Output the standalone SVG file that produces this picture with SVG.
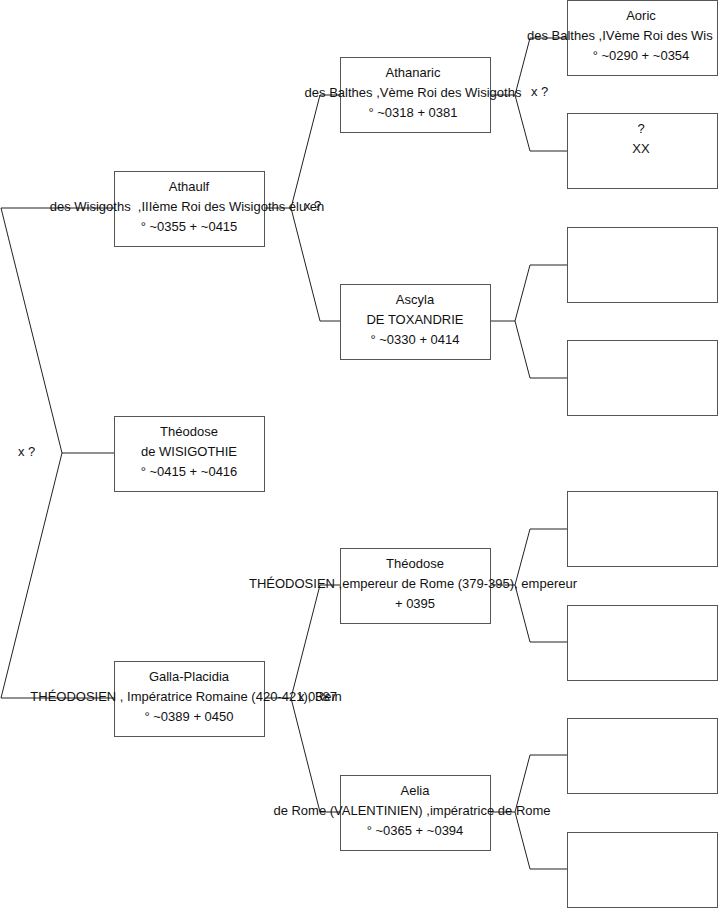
<svg xmlns="http://www.w3.org/2000/svg" width="719" height="908" viewBox="0 0 719 908">
<style>
.box{fill:#fff;stroke:#555;stroke-width:1}
.t{font-family:"Liberation Sans",Arial,sans-serif;font-size:13px;fill:#111;text-anchor:middle}
.l{font-family:"Liberation Sans",Arial,sans-serif;font-size:13px;fill:#111}
.c{fill:none;stroke:#222;stroke-width:1}
</style>
<rect width="719" height="908" fill="#fff"/>
<g id="connectors">
<polyline class="c" points="114,208 1,208 62,453 114,453"/>
<polyline class="c" points="62,453 1,698 114,698"/>
<polyline class="c" points="264,208 291,208 320,95 340,95"/>
<polyline class="c" points="291,208 320,321 340,321"/>
<polyline class="c" points="264,698 291,698 320,585 340,585"/>
<polyline class="c" points="291,698 320,812 340,812"/>
<polyline class="c" points="490,95 515,95 530,38 567,38"/>
<polyline class="c" points="515,95 530,151 567,151"/>
<polyline class="c" points="490,321 515,321 530,265 567,265"/>
<polyline class="c" points="515,321 530,378 567,378"/>
<polyline class="c" points="490,585 515,585 530,529 567,529"/>
<polyline class="c" points="515,585 530,642 567,642"/>
<polyline class="c" points="490,812 515,812 530,755 567,755"/>
<polyline class="c" points="515,812 530,869 567,869"/>
</g>
<g id="n-athaulf">
<rect class="box" x="114.5" y="171.5" width="150" height="75"/>
<text class="t" x="189" y="191">Athaulf</text>
<text class="t" x="187" y="211" xml:space="preserve">des Wisigoths  ,IIIème Roi des Wisigoths élu en</text>
<text class="t" x="189" y="231">° ~0355 + ~0415</text>
</g>
<g id="n-theodose-w">
<rect class="box" x="114.5" y="416.5" width="150" height="75"/>
<text class="t" x="189" y="436">Théodose</text>
<text class="t" x="189" y="456">de WISIGOTHIE</text>
<text class="t" x="189" y="476">° ~0415 + ~0416</text>
</g>
<g id="n-galla">
<rect class="box" x="114.5" y="661.5" width="150" height="75"/>
<text class="t" x="189" y="681">Galla-Placidia</text>
<text class="t" x="186" y="701">THÉODOSIEN , Impératrice Romaine (420-421), Rein</text>
<text class="t" x="189" y="721">° ~0389 + 0450</text>
</g>
<g id="n-athanaric">
<rect class="box" x="340.5" y="57.5" width="150" height="75"/>
<text class="t" x="413" y="77">Athanaric</text>
<text class="t" x="413" y="97">des Balthes ,Vème Roi des Wisigoths</text>
<text class="t" x="413" y="117">° ~0318 + 0381</text>
</g>
<g id="n-ascyla">
<rect class="box" x="340.5" y="284.5" width="150" height="75"/>
<text class="t" x="415" y="304">Ascyla</text>
<text class="t" x="415" y="324">DE TOXANDRIE</text>
<text class="t" x="415" y="344">° ~0330 + 0414</text>
</g>
<g id="n-theodose">
<rect class="box" x="340.5" y="548.5" width="150" height="75"/>
<text class="t" x="415" y="568">Théodose</text>
<text class="t" x="413" y="588">THÉODOSIEN ,empereur de Rome (379-395), empereur</text>
<text class="t" x="415" y="608">+ 0395</text>
</g>
<g id="n-aelia">
<rect class="box" x="340.5" y="775.5" width="150" height="75"/>
<text class="t" x="415" y="795">Aelia</text>
<text class="t" x="412" y="815">de Rome (VALENTINIEN) ,impératrice de Rome</text>
<text class="t" x="415" y="835">° ~0365 + ~0394</text>
</g>
<g id="n-aoric">
<rect class="box" x="567.5" y="0.5" width="150" height="75"/>
<text class="t" x="641" y="20">Aoric</text>
<text class="l" x="527" y="40">des Balthes ,IVème Roi des Wis</text>
<text class="t" x="641" y="60">° ~0290 + ~0354</text>
</g>
<g id="n-unknown">
<rect class="box" x="567.5" y="113.5" width="150" height="75"/>
<text class="t" x="641" y="133">?</text>
<text class="t" x="641" y="153">XX</text>
</g>
<g id="n-e1"><rect class="box" x="567.5" y="227.5" width="150" height="75"/></g>
<g id="n-e2"><rect class="box" x="567.5" y="340.5" width="150" height="75"/></g>
<g id="n-e3"><rect class="box" x="567.5" y="491.5" width="150" height="75"/></g>
<g id="n-e4"><rect class="box" x="567.5" y="605.5" width="150" height="75"/></g>
<g id="n-e5"><rect class="box" x="567.5" y="718.5" width="150" height="75"/></g>
<g id="n-e6"><rect class="box" x="567.5" y="832.5" width="150" height="75"/></g>
<g id="labels">
<text class="l" x="18" y="456">x ?</text>
<text class="l" x="304" y="210">x ?</text>
<text class="l" x="298" y="701">x 0387</text>
<text class="l" x="531" y="96">x ?</text>
</g>
</svg>
